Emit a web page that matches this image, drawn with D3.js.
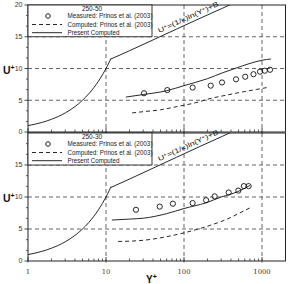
<!DOCTYPE html>
<html>
<head>
<meta charset="utf-8">
<script src="https://cdn.jsdelivr.net/npm/d3@7"></script>
<style>
  body { margin: 0; background: #fff; }
  svg { display: block; font-family: "Liberation Sans", Arial, sans-serif; }
</style>
</head>
<body>
<div id="chart"></div>
<script>
// ---- data ----
const panelTitles = ['250-50', '250-30'];
const legendLabels = ['Measured: Prinos et al. (2003)', 'Computed: Prinos et al. (2003)', 'Present Computed'];
const yTickValues = [0, 5, 10, 15, 20];
const xTickValues = [1, 10, 100, 1000];
const xTickLabels = ['1', '10', '100', '1000'];

// viscous sublayer U+ = Y+ and log law, same in both panels
const subYp = [1, 1.5, 2, 3, 4, 5, 6, 7, 8, 9, 10, 11, 11.6];
const subU = [1, 1.5, 2, 3, 4, 5, 6, 7, 8, 9, 10, 11, 11.6];
const lawYp = [11.6, 20, 40, 80, 160, 300, 400];
const lawU = [11.5, 12.8, 14.5, 16.2, 17.9, 19.4, 20.1];

// top panel (250-50)
const measYpTop = [30.7, 61, 129, 220, 307, 465, 609, 777, 943, 1086, 1267];
const measUTop = [6.1, 6.6, 7.0, 7.3, 7.8, 8.3, 8.7, 9.1, 9.5, 9.65, 9.8];
const compYpTop = [21.6, 30, 50, 81, 140, 222, 350, 585, 850, 1155];
const compUTop = [3.0, 3.2, 3.5, 4.0, 4.6, 5.3, 5.8, 6.35, 6.7, 7.0];
const presYpTop = [18, 30, 60, 100, 200, 325, 450, 700, 1000, 1300];
const presUTop = [5.5, 5.9, 6.5, 7.3, 8.4, 9.4, 10.0, 10.8, 11.3, 11.5];

// bottom panel (250-30)
const measYpBot = [24.2, 48.8, 72, 129, 192, 247, 374, 497, 585, 673];
const measUBot = [8.0, 8.5, 8.95, 9.05, 9.5, 10.1, 10.7, 11.0, 11.7, 11.7];
const compYpBot = [14.3, 20, 30.7, 60, 100, 220, 350, 480, 700];
const compUBot = [3.05, 3.1, 3.25, 3.8, 4.4, 5.6, 6.5, 7.3, 8.3];
const presYpBot = [11.9, 20, 30.7, 60, 100, 192, 300, 480, 700];
const presUBot = [6.4, 6.55, 6.7, 7.4, 8.2, 9.1, 10.0, 10.8, 11.8];

const zip = (a, b) => a.map((v, i) => [v, b[i]]);

const W = 288, H = 284;
const Left = 28, Right = 285.5;
const panels = [
  { top: 5, bottom: 132, title: panelTitles[0], ticks: yTickValues,
    meas: zip(measYpTop, measUTop), comp: zip(compYpTop, compUTop), pres: zip(presYpTop, presUTop) },
  { top: 133, bottom: 261, title: panelTitles[1], ticks: yTickValues.slice(0, 4),
    meas: zip(measYpBot, measUBot), comp: zip(compYpBot, compUBot), pres: zip(presYpBot, presUBot) }
];

const svg = d3.select('#chart').append('svg')
  .attr('width', W).attr('height', H);

const x = d3.scaleLog().domain([1, 2000]).range([Left, Right]);

const gridColor = '#555';

panels.forEach((p, pi) => {
  const y = d3.scaleLinear().domain([0, 20]).range([p.bottom, p.top]);
  const g = svg.append('g');

  const clipId = 'clip' + pi;
  svg.append('clipPath').attr('id', clipId)
    .append('rect').attr('x', Left).attr('y', p.top)
    .attr('width', Right - Left).attr('height', p.bottom - p.top);

  // grid
  g.selectAll('.vg').data([10, 100, 1000]).enter().append('line')
    .attr('x1', d => x(d)).attr('x2', d => x(d))
    .attr('y1', p.top).attr('y2', p.bottom)
    .attr('stroke', gridColor).attr('stroke-width', 0.9).attr('stroke-dasharray', '4,3');
  g.selectAll('.hg').data([5, 10, 15]).enter().append('line')
    .attr('x1', Left).attr('x2', Right)
    .attr('y1', d => y(d)).attr('y2', d => y(d))
    .attr('stroke', gridColor).attr('stroke-width', 0.9).attr('stroke-dasharray', '4,3');

  const line = d3.line().x(d => x(d[0])).y(d => y(d[1])).curve(d3.curveMonotoneX);
  const curves = g.append('g').attr('clip-path', `url(#${clipId})`);

  curves.append('path').datum(zip(subYp, subU)).attr('d', line)
    .attr('fill', 'none').attr('stroke', '#111').attr('stroke-width', 0.9);
  curves.append('path').datum(zip(lawYp, lawU)).attr('d', line)
    .attr('fill', 'none').attr('stroke', '#111').attr('stroke-width', 0.9);
  curves.append('path').datum(p.comp).attr('d', line)
    .attr('fill', 'none').attr('stroke', '#111').attr('stroke-width', 0.9)
    .attr('stroke-dasharray', '4,3');
  curves.append('path').datum(p.pres).attr('d', line)
    .attr('fill', 'none').attr('stroke', '#111').attr('stroke-width', 0.9);
  curves.selectAll('circle').data(p.meas).enter().append('circle')
    .attr('cx', d => x(d[0])).attr('cy', d => y(d[1])).attr('r', 2.6)
    .attr('fill', 'none').attr('stroke', '#111').attr('stroke-width', 0.9);

  // log-law label along the line
  const a = [x(lawYp[2]), y(lawU[2])], b = [x(lawYp[5]), y(lawU[5])];
  const ang = Math.atan2(b[1] - a[1], b[0] - a[0]) * 180 / Math.PI;
  const lx = x(48), ly = y(15.2) - 2.5;
  const lt = g.append('text')
    .attr('transform', `translate(${lx},${ly}) rotate(${ang})`)
    .attr('font-size', 6.8).attr('fill', '#111')
    .attr('textLength', 66).attr('lengthAdjust', 'spacingAndGlyphs');
  lt.append('tspan').text('U');
  lt.append('tspan').attr('dy', -2).attr('font-size', 4.6).text('+');
  lt.append('tspan').attr('dy', 2).text('=(1/κ)ln(Y');
  lt.append('tspan').attr('dy', -2).attr('font-size', 4.6).text('+');
  lt.append('tspan').attr('dy', 2).text(')+B');

  // frame
  g.append('rect').attr('x', Left).attr('y', p.top)
    .attr('width', Right - Left).attr('height', p.bottom - p.top)
    .attr('fill', 'none').attr('stroke', '#222').attr('stroke-width', 1);

  // legend
  const T = p.top, LB = y(15);
  const lg = g.append('g');
  lg.append('rect').attr('x', Left).attr('y', T).attr('width', 152 - Left).attr('height', LB - T)
    .attr('fill', '#fff').attr('stroke', '#222').attr('stroke-width', 0.9);
  lg.append('text').attr('x', 92).attr('y', T + 5.5).attr('text-anchor', 'middle')
    .attr('font-size', 6.5).attr('fill', '#222').text(p.title);
  const rows = [T + 13.3, T + 21.8, T + 30];
  lg.append('circle').attr('cx', 48).attr('cy', rows[0] - 2.3).attr('r', 2.3)
    .attr('fill', 'none').attr('stroke', '#111').attr('stroke-width', 0.9);
  lg.append('line').attr('x1', 32).attr('x2', 62).attr('y1', rows[1] - 2.3).attr('y2', rows[1] - 2.3)
    .attr('stroke', '#111').attr('stroke-width', 0.9).attr('stroke-dasharray', '4,3');
  lg.append('line').attr('x1', 32).attr('x2', 62).attr('y1', rows[2] - 2.3).attr('y2', rows[2] - 2.3)
    .attr('stroke', '#111').attr('stroke-width', 0.9);
  const widths = [85, 85, 52];
  legendLabels.forEach((t, i) => {
    lg.append('text').attr('x', 67.5).attr('y', rows[i])
      .attr('font-size', 6.8).attr('fill', '#222')
      .attr('textLength', widths[i]).attr('lengthAdjust', 'spacingAndGlyphs')
      .text(t);
  });

  // y axis ticks
  const yMinor = d3.range(0, 20.01, 5 / 3).filter(v => Math.abs(v / 5 - Math.round(v / 5)) > 0.01);
  g.selectAll('.ym').data(yMinor.filter(v => y(v) >= p.top)).enter().append('line')
    .attr('x1', Left - 2).attr('x2', Left).attr('y1', d => y(d)).attr('y2', d => y(d))
    .attr('stroke', '#333').attr('stroke-width', 0.8);
  g.selectAll('.yM').data(p.ticks).enter().append('line')
    .attr('x1', Left - 3.5).attr('x2', Left).attr('y1', d => y(d)).attr('y2', d => y(d))
    .attr('stroke', '#333').attr('stroke-width', 0.9);
  g.selectAll('.yl').data(p.ticks).enter().append('text')
    .attr('x', Left - 5.5).attr('y', d => y(d) + 2.4).attr('text-anchor', 'end')
    .attr('font-size', 7).attr('fill', '#333').text(d => d);

  // x axis ticks (inward)
  const xMinor = [];
  [1, 10, 100, 1000].forEach(dec => { for (let k = 2; k <= 9; k++) if (dec * k <= 2000) xMinor.push(dec * k); });
  g.selectAll('.xm').data(xMinor).enter().append('line')
    .attr('x1', d => x(d)).attr('x2', d => x(d)).attr('y1', p.bottom).attr('y2', p.bottom - 2.5)
    .attr('stroke', '#333').attr('stroke-width', 0.8);
  g.selectAll('.xM').data(xTickValues).enter().append('line')
    .attr('x1', d => x(d)).attr('x2', d => x(d)).attr('y1', p.bottom + 1.5).attr('y2', p.bottom - 4)
    .attr('stroke', '#333').attr('stroke-width', 0.9);

  // U+ label
  const ul = svg.append('text').attr('x', 3).attr('y', (p.top + p.bottom) / 2 + 5)
    .attr('font-size', 10.5).attr('font-weight', 'bold').attr('fill', '#111');
  ul.append('tspan').text('U');
  ul.append('tspan').attr('dy', -4).attr('font-size', 7).text('+');
});

// bottom x tick labels
svg.selectAll('.xl').data(xTickValues).enter().append('text')
  .attr('x', d => x(d)).attr('y', 274).attr('text-anchor', 'middle')
  .attr('font-family', '"DejaVu Serif", serif')
  .attr('font-size', 6.8).attr('fill', '#333').text((d, i) => xTickLabels[i]);

const xl = svg.append('text').attr('x', 146).attr('y', 282.5)
  .attr('font-size', 10).attr('font-weight', 'bold').attr('fill', '#111');
xl.append('tspan').text('Y');
xl.append('tspan').attr('dy', -4).attr('font-size', 7).text('+');
</script>
</body>
</html>
